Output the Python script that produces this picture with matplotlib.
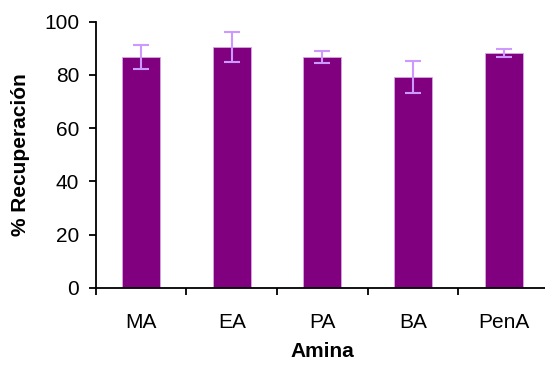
import matplotlib
matplotlib.use('Agg')
import matplotlib.pyplot as plt

aminas = ['MA', 'EA', 'PA', 'BA', 'PenA']
recuperacion = [86.8, 90.6, 86.8, 79.2, 88.2]
error = [4.5, 5.6, 2.3, 5.9, 1.6]

plt.rcParams['font.family'] = ['Liberation Sans', 'DejaVu Sans']

fig = plt.figure(figsize=(5.45, 3.65), dpi=100)
ax = fig.add_axes([0.176, 0.211, 0.831, 0.7296])

x = range(len(aminas))
ax.bar(x, recuperacion, width=0.42, color='#800080', edgecolor='#d9a6e6', linewidth=0.6,
       yerr=error, ecolor='#cc99ff', capsize=5.5,
       error_kw={'elinewidth': 1.5, 'capthick': 1.5})

ax.set_xlim(-0.5, 4.5)
ax.set_ylim(0, 100)
ax.set_yticks([0, 20, 40, 60, 80, 100])
ax.set_xticks(list(x))
ax.set_xticklabels(aminas)
ax.set_xticks([i - 0.5 for i in range(len(aminas) + 1)], minor=True)
ax.tick_params(axis='x', which='major', length=0, pad=18, labelsize=15)
ax.tick_params(axis='x', which='minor', length=5, width=1.3, direction='out')
ax.tick_params(axis='y', length=5, width=1.3, direction='out', labelsize=15, pad=7)

for side in ['top', 'right']:
    ax.spines[side].set_visible(False)
ax.spines['left'].set_linewidth(1.3)
ax.spines['bottom'].set_linewidth(1.3)

ax.set_xlabel('Amina', fontsize=15, fontweight='bold', labelpad=7)
ax.set_ylabel('% Recuperación', fontsize=15, fontweight='bold', labelpad=10)

plt.savefig('out.png', dpi=100)
